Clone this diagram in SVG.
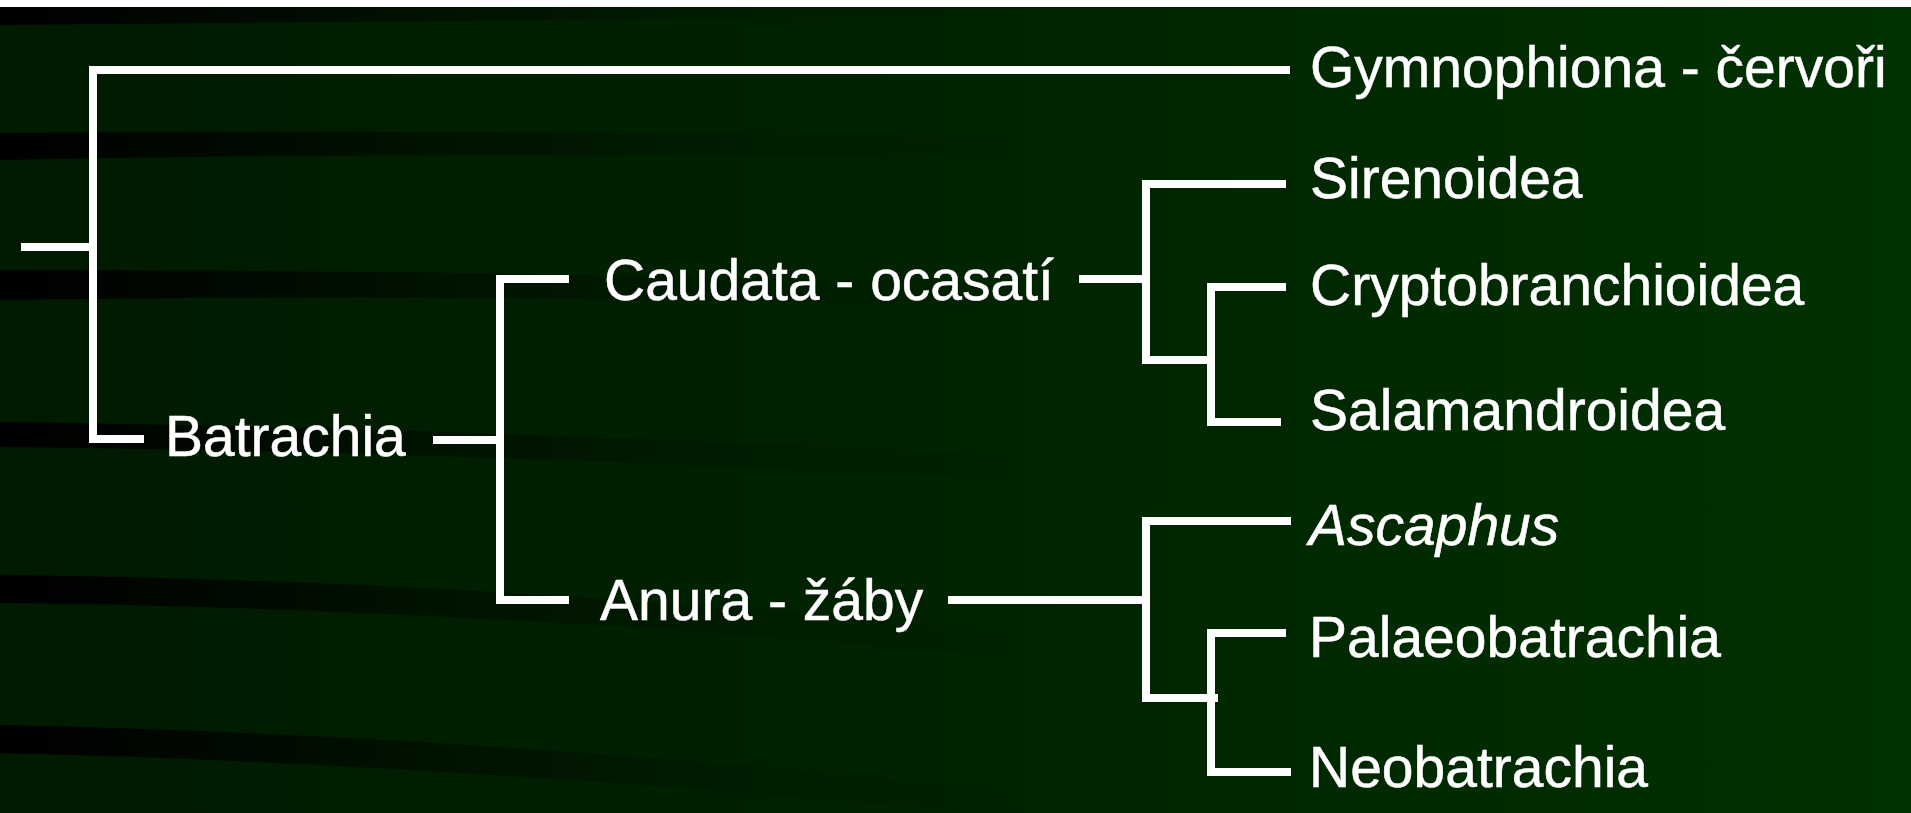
<svg xmlns="http://www.w3.org/2000/svg" width="1911" height="813" viewBox="0 0 1911 813">
<defs>
<linearGradient id="bg" x1="0" y1="0" x2="1" y2="0">
<stop offset="0" stop-color="#001a00"/>
<stop offset="0.5" stop-color="#002300"/>
<stop offset="1" stop-color="#003100"/>
</linearGradient>
<linearGradient id="streak" x1="0" y1="0" x2="1" y2="0">
<stop offset="0" stop-color="#000000" stop-opacity="1"/>
<stop offset="0.1" stop-color="#000000" stop-opacity="0.85"/>
<stop offset="0.35" stop-color="#000000" stop-opacity="0.45"/>
<stop offset="0.7" stop-color="#000000" stop-opacity="0.12"/>
<stop offset="1" stop-color="#000000" stop-opacity="0"/>
</linearGradient>
<style>
.ln{fill:none;stroke:#ffffff;stroke-width:8;stroke-linejoin:miter;stroke-linecap:butt}
.t{font-family:"Liberation Sans",Arial,sans-serif;font-size:57px;fill:#ffffff;stroke:#ffffff;stroke-width:0.5}
.it{font-style:italic}
</style>
</defs>
<rect x="0" y="0" width="1911" height="813" fill="url(#bg)"/>
<g id="streaks" fill="url(#streak)">
<path d="M0,7 L1100,7 L1100,15 Q600,20 0,25 Z"/>
<path d="M0,133 Q500,128 1100,140 L1100,160 Q500,150 0,160 Z"/>
<path d="M0,270 Q500,270 1100,285 L1100,310 Q500,292 0,300 Z"/>
<path d="M0,422 Q500,428 1100,460 L1100,485 Q500,452 0,447 Z"/>
<path d="M0,575 Q500,580 1100,640 L1100,665 Q500,608 0,603 Z"/>
<path d="M0,725 Q500,735 1100,800 L1100,825 Q500,765 0,753 Z"/>
</g>
<rect x="0" y="0" width="1911" height="7" fill="#ffffff"/>
<g id="connectors" class="ln">
<path d="M21,247 H93"/>
<path d="M1290,70 H93 V439 H144"/>
<path d="M433,440 H500"/>
<path d="M569,279 H500 V600 H569"/>
<path d="M1079,279 H1146"/>
<path d="M1286,184 H1146 V360 H1211"/>
<path d="M1286,287 H1211 V422 H1281"/>
<path d="M948,600 H1146"/>
<path d="M1291,521 H1146 V698 H1218"/>
<path d="M1286,633 H1211 V772 H1291"/>
</g>
<g id="n-gymnophiona"><text class="t" x="1310" y="87">Gymnophiona - červoři</text></g>
<g id="n-batrachia"><text class="t" x="165" y="456">Batrachia</text></g>
<g id="n-caudata"><text class="t" x="604" y="300">Caudata - ocasatí</text></g>
<g id="n-anura"><text class="t" x="600" y="620">Anura - žáby</text></g>
<g id="n-sirenoidea"><text class="t" x="1310" y="198">Sirenoidea</text></g>
<g id="n-cryptobranchioidea"><text class="t" x="1310" y="305">Cryptobranchioidea</text></g>
<g id="n-salamandroidea"><text class="t" x="1310" y="430">Salamandroidea</text></g>
<g id="n-ascaphus"><text class="t it" x="1309" y="545">Ascaphus</text></g>
<g id="n-palaeobatrachia"><text class="t" x="1309" y="657">Palaeobatrachia</text></g>
<g id="n-neobatrachia"><text class="t" x="1309" y="787">Neobatrachia</text></g>
</svg>
